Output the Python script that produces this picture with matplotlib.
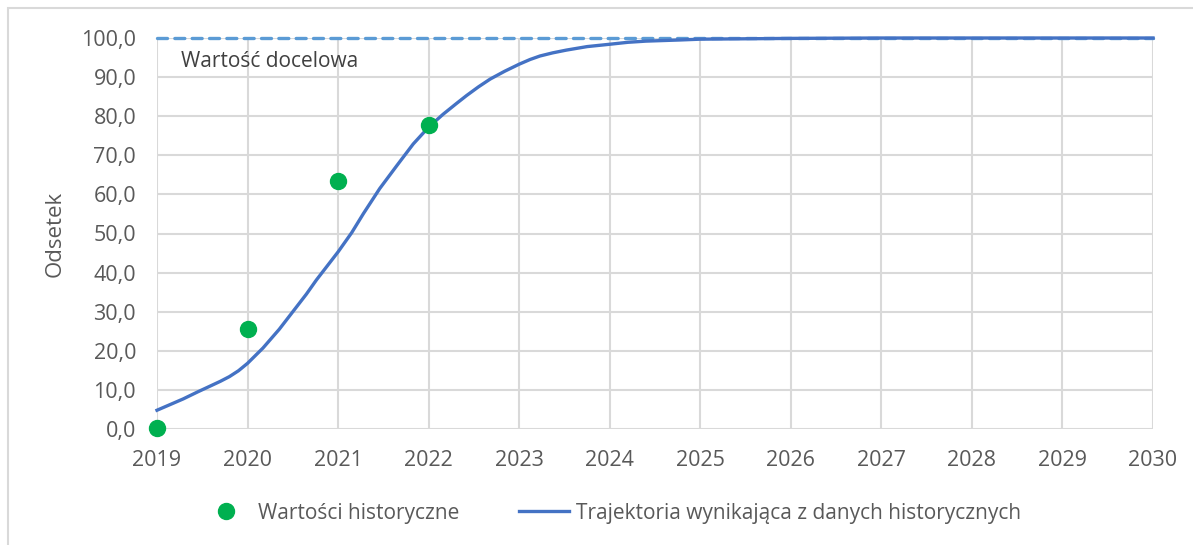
import numpy as np
import matplotlib.pyplot as plt
from matplotlib.patches import Rectangle

plt.rcParams['font.family'] = ['Open Sans', 'DejaVu Sans']

# historical values
hist_years = [2019, 2020, 2021, 2022]
hist_vals = [0.2, 25.5, 63.5, 77.7]

# trajectory
traj_years = [2019.0, 2019.15, 2019.29, 2019.45, 2019.58, 2019.7, 2019.8, 2019.9,
              2020.0, 2020.17, 2020.35, 2020.5, 2020.65, 2020.76, 2020.88,
              2021.0, 2021.15, 2021.28, 2021.46, 2021.65, 2021.83,
              2022.0, 2022.16, 2022.31, 2022.42, 2022.55, 2022.68, 2022.84,
              2023.0, 2023.12, 2023.23, 2023.37, 2023.52, 2023.75,
              2024.0, 2024.2, 2024.4, 2024.78, 2025.0, 2025.5,
              2026.0, 2027.0, 2028.0, 2029.0, 2030.0]
traj_vals = [4.8, 6.3, 7.7, 9.5, 10.9, 12.2, 13.4, 14.9,
             16.8, 20.7, 25.5, 30.0, 34.5, 38.1, 41.7,
             45.3, 50.2, 55.1, 61.5, 67.4, 72.9,
             77.2, 80.5, 83.3, 85.3, 87.5, 89.5, 91.5,
             93.3, 94.5, 95.4, 96.2, 96.9, 97.8,
             98.4, 98.9, 99.2, 99.5, 99.7, 99.8,
             99.9, 100.0, 100.0, 100.0, 100.0]

target = 100.0
x_ticks = list(range(2019, 2031))
y_ticks = list(range(0, 101, 10))

txt = '#595959'
grid_c = '#D9D9D9'

fig = plt.figure(figsize=(11.93, 5.45), dpi=100)
ax = fig.add_axes([157/1193, 1 - 429/545, (1153-157)/1193, (429-38)/545])

ax.plot([x_ticks[0], x_ticks[-1]], [target, target], color='#5B9BD5', lw=2.4,
        ls=(0, (3, 2.2)), dash_capstyle='round', clip_on=False, zorder=3)
ax.plot(traj_years, traj_vals, color='#4472C4', lw=2.4, clip_on=False, zorder=4,
        solid_joinstyle='round', label='Trajektoria wynikająca z danych historycznych')
ax.plot(hist_years, hist_vals, 'o', color='#00B050', ms=11.5, clip_on=False, zorder=5,
        label='Wartości historyczne')

ax.set_xlim(2019, 2030)
ax.set_ylim(0, 100)
ax.set_xticks(x_ticks)
ax.set_yticks(y_ticks)
ax.set_yticklabels([('%.1f' % v).replace('.', ',') for v in y_ticks])
ax.grid(True, color=grid_c, lw=1.5)
ax.set_axisbelow(True)
for s in ax.spines.values():
    s.set_visible(False)
ax.tick_params(length=0, labelsize=15.5, colors=txt)
ax.tick_params(axis='x', pad=15)
ax.tick_params(axis='y', pad=15)
ax.set_ylabel('Odsetek', fontsize=16, color=txt, labelpad=11)

ax.text(2019.27, 94, 'Wartość docelowa', fontsize=15, color='#404040', va='center')

h, l = ax.get_legend_handles_labels()
fig.legend(h[::-1], l[::-1], loc='center', bbox_to_anchor=(611/1193, 1 - 513/545), ncol=2,
           frameon=False, fontsize=15, labelcolor=txt, handlelength=2.4,
           handletextpad=0.3, columnspacing=2.9)

fig.add_artist(Rectangle((8/1193, -0.1), 1.2, 1.1 - 8/545, transform=fig.transFigure,
                         fill=False, ec=grid_c, lw=1.5))

fig.savefig('out.png', dpi=100)
